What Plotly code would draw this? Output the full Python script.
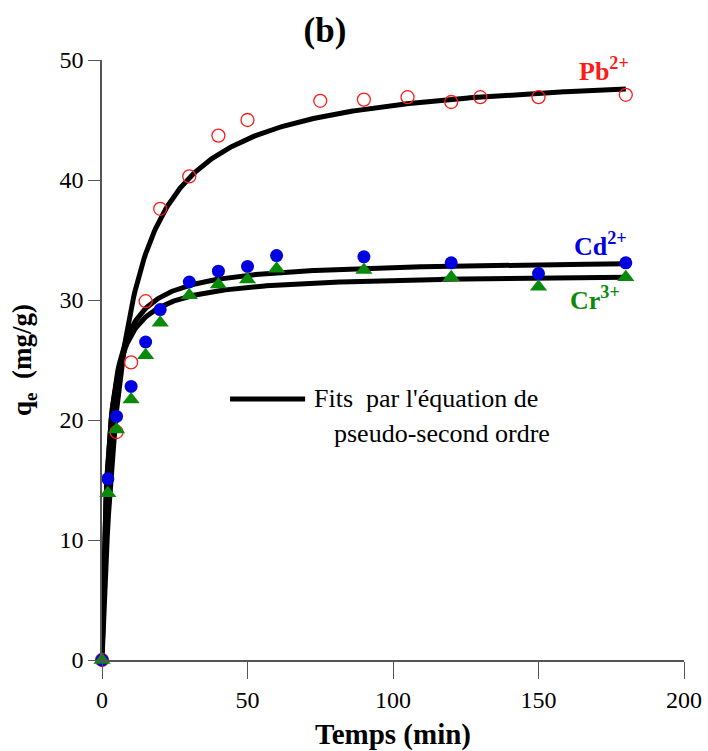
import numpy as np
import plotly.graph_objects as go

# Contact time (min) and adsorbed amount q_e (mg/g)
t_pb = [0, 5, 10, 15, 20, 30, 40, 50, 75, 90, 105, 120, 130, 150, 180]
q_pb = [0, 19.0, 24.8, 29.9, 37.6, 40.3, 43.7, 45.0, 46.6, 46.7, 46.9, 46.5, 46.9, 46.9, 47.1]

t_cd = [0, 2, 5, 10, 15, 20, 30, 40, 50, 60, 90, 120, 150, 180]
q_cd = [0, 15.1, 20.3, 22.8, 26.5, 29.2, 31.5, 32.4, 32.8, 33.7, 33.6, 33.1, 32.2, 33.1]

t_cr = [0, 2, 5, 10, 15, 20, 30, 40, 50, 60, 90, 120, 150, 180]
q_cr = [0, 13.9, 19.2, 21.7, 25.4, 28.1, 30.4, 31.3, 31.7, 32.6, 32.5, 31.9, 31.1, 31.9]

# Pseudo-second-order fit parameters: [Pb, Cd, Cr]
qe_fit = [49.4, 33.4, 32.24]
k2_fit = [0.00294, 0.01426, 0.01616]

x_ticks = [0, 50, 100, 150, 200]
y_ticks = [0, 10, 20, 30, 40, 50]

SERIF = "Liberation Serif, Times New Roman, serif"

fig = go.Figure()

# fitted kinetic curves q(t) = k qe^2 t / (1 + k qe t)
t_fit = np.linspace(0, 180, 400)
for qe, k in zip(qe_fit, k2_fit):
    q = k * qe**2 * t_fit / (1 + k * qe * t_fit)
    fig.add_trace(go.Scatter(x=t_fit, y=q, mode="lines",
                             line=dict(color="black", width=5),
                             showlegend=False, hoverinfo="skip"))

fig.add_trace(go.Scatter(x=t_pb, y=q_pb, mode="markers", cliponaxis=False,
                         marker=dict(symbol="circle-open", size=13, color="#ff1a1a",
                                     line=dict(width=1.3, color="#ff1a1a")),
                         showlegend=False))
fig.add_trace(go.Scatter(x=t_cd, y=q_cd, mode="markers", cliponaxis=False,
                         marker=dict(symbol="circle", size=13, color="#0000e0"),
                         showlegend=False))
fig.add_trace(go.Scatter(x=t_cr, y=q_cr, mode="markers", cliponaxis=False,
                         marker=dict(symbol="triangle-up", size=15, color="#0a8a0a"),
                         showlegend=False))

# legend for the fitted curves
fig.add_shape(type="line", xref="paper", yref="paper",
              x0=0.22, x1=0.349, y0=0.435, y1=0.435,
              line=dict(color="black", width=5))

annotations = [
    dict(x=0.361, y=0.435, text="Fits  par l'équation de", xanchor="left",
         yanchor="middle", font=dict(size=26, color="black", family=SERIF)),
    dict(x=0.395, y=0.377, text="pseudo-second ordre", xanchor="left",
         yanchor="middle", font=dict(size=26, color="black", family=SERIF)),
    dict(x=0.817, y=0.985, text="<b>Pb<sup>2+</sup></b>", xanchor="left",
         yanchor="middle", font=dict(size=26, color="#ff1a1a", family=SERIF)),
    dict(x=0.808, y=0.693, text="<b>Cd<sup>2+</sup></b>", xanchor="left",
         yanchor="middle", font=dict(size=26, color="#0000e0", family=SERIF)),
    dict(x=0.800, y=0.602, text="<b>Cr<sup>3+</sup></b>", xanchor="left",
         yanchor="middle", font=dict(size=26, color="#0a8a0a", family=SERIF)),
]
for a in annotations:
    fig.add_annotation(xref="paper", yref="paper", showarrow=False, **a)

fig.update_layout(
    width=708, height=751,
    margin=dict(l=102, r=24, t=60, b=91, autoexpand=False),
    paper_bgcolor="white", plot_bgcolor="white",
    font=dict(family=SERIF, color="black"),
    title=dict(text="<b>(b)</b>", x=0.459, xanchor="center", y=0.96, yanchor="middle",
               font=dict(size=35, color="black", family=SERIF)),
)

fig.update_xaxes(range=[0, 200], tickvals=x_ticks, showgrid=False, zeroline=False,
                 showline=True, linecolor="#555", linewidth=1.5, automargin=False,
                 ticks="outside", ticklen=17, tickwidth=1.2, tickcolor="#555",
                 tickfont=dict(size=24, family=SERIF),
                 title=dict(text="<b>Temps (min)</b>", font=dict(size=29, family=SERIF),
                            standoff=12))
fig.update_yaxes(range=[0, 50], tickvals=y_ticks, showgrid=False, zeroline=False,
                 showline=True, linecolor="#555", linewidth=1.5, automargin=False,
                 ticks="outside", ticklen=12, tickwidth=1.2, tickcolor="#555",
                 tickfont=dict(size=24, family=SERIF),
                 title=dict(text="<b>q<sub>e</sub>  (mg/g)</b>", font=dict(size=27, family=SERIF),
                            standoff=20))

fig.write_html("out.html")
